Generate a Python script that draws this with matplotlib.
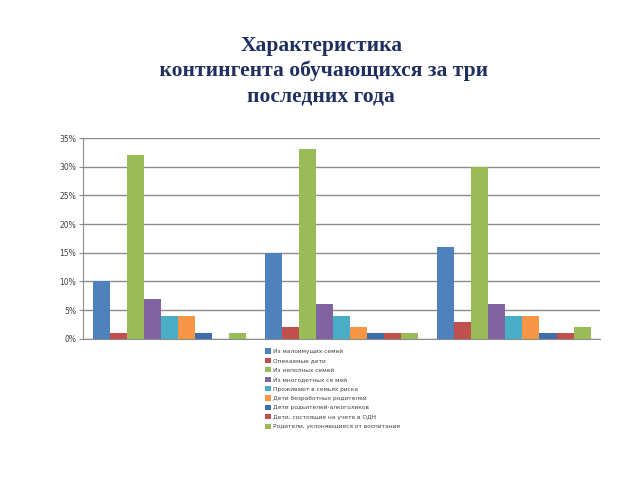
import numpy as np
import matplotlib.pyplot as plt
from matplotlib.patches import Patch

# Three years, nine categories of pupils (percent)
years = ['1', '2', '3']
series_names = [
    'Из малоимущих семей',
    'Опекаемые дети',
    'Из неполных семей',
    'Из многодетных се мей',
    'Проживают в семьях риска',
    'Дети безработных родителей',
    'Дети родьителей-алкоголиков',
    'Дети, состоящие на учете в ОДН',
    'Родители, уклоняющиеся от воспитания',
]
year1 = [10, 1, 32, 7, 4, 4, 1, 0, 1]
year2 = [15, 2, 33, 6, 4, 2, 1, 1, 1]
year3 = [16, 3, 30, 6, 4, 4, 1, 1, 2]
colors = ['#4F81BD', '#C0504D', '#9BBB59', '#8064A2', '#4BACC6',
          '#F79646', '#3F6FAA', '#C0504D', '#9BBB59']

values = np.array([year1, year2, year3])  # shape (years, series)

fig = plt.figure(figsize=(6.4, 4.8), dpi=100)
ax = fig.add_axes([0.13, 0.294, 0.8075, 0.4185])

x = np.arange(len(years))
n = len(series_names)
w = 0.099
for i in range(n):
    ax.bar(x - (n - 1) / 2 * w + i * w, values[:, i], width=w,
           color=colors[i], zorder=3)

ax.set_xlim(-0.5, 2.5)
ax.set_ylim(0, 35)
ax.set_yticks(range(0, 36, 5))
ax.set_yticklabels([f'{v}%' for v in range(0, 36, 5)], fontsize=5.5,
                   color='#404040')
ax.set_xticks([])
ax.yaxis.grid(True, color='#8c8c8c', linewidth=1.0, zorder=0)
ax.tick_params(axis='y', length=3, color='#8c8c8c', pad=2)
for s in ['top', 'right']:
    ax.spines[s].set_visible(False)
ax.spines['left'].set_color('#8c8c8c')
ax.spines['bottom'].set_color('#8c8c8c')

# Title
fig.text(0.502, 0.852, 'Характеристика\n контингента обучающихся за три\nпоследних года',
         ha='center', va='center', fontsize=15.5, fontweight='bold',
         family='Liberation Serif', color='#1F2F5F', linespacing=1.32)

handles = [Patch(facecolor=c) for c in colors]
fig.legend(handles, series_names, loc='upper left',
           bbox_to_anchor=(0.41, 0.279), frameon=False, fontsize=4.2,
           handlelength=1.0, handleheight=1.0, handletextpad=0.5,
           labelspacing=0.65, borderaxespad=0, labelcolor='#404040')

fig.savefig('out.png', dpi=100)
